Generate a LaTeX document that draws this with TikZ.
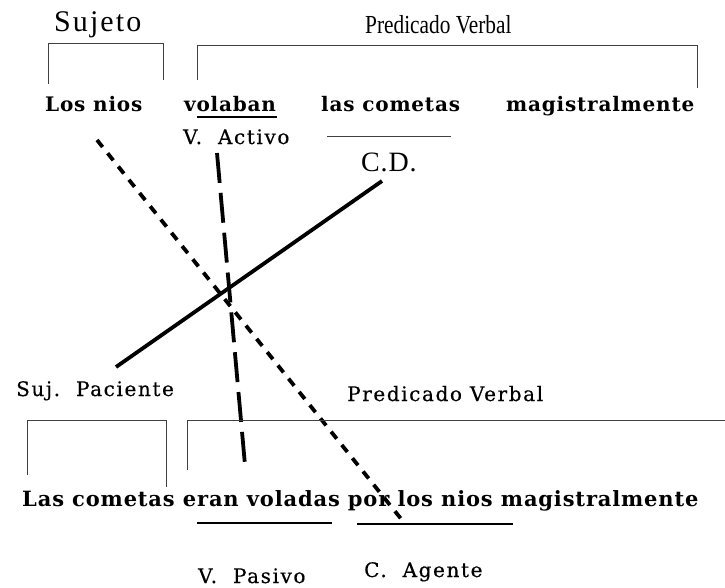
\documentclass[tikz,border=0pt]{standalone}
\usepackage{fontspec}
\setmainfont{Liberation Serif}
\newfontfamily\wideserif{DejaVu Serif}[BoldFont={DejaVu Serif Bold}]
\begin{document}
\begin{tikzpicture}[x=1pt,y=-1pt,
  lbl/.style={inner sep=0pt,anchor=base west,font=\wideserif\fontsize{20}{22}\selectfont\addfontfeature{LetterSpace=8,FakeBold=0.5}},
  brow/.style={inner sep=0pt,anchor=base west,font=\wideserif\bfseries\fontsize{20}{22}\selectfont\addfontfeature{LetterSpace=4}},
  bracket/.style={draw=black!75,line width=0.9pt},
  uline/.style={line width=2.2pt},
  cross/.style={line width=3.8pt}]
\useasboundingbox (0,0) rectangle (725,587);
% top labels
\node[inner sep=0pt,anchor=base west,font=\fontsize{30}{32}\selectfont\addfontfeature{LetterSpace=7}] (suj) at (54,31) {Sujeto};
\node[inner sep=0pt,anchor=base west,font=\fontsize{26}{30}\selectfont] (pv1) at (365,33) {\scalebox{0.82}[1]{Predicado Verbal}};
% top brackets
\coordinate (s1a) at (48,84); \coordinate (s1b) at (48,43);
\coordinate (s1c) at (163,43); \coordinate (s1d) at (163,80);
\draw[bracket] (s1a) -- (s1b) -- (s1c) -- (s1d);
\coordinate (p1a) at (197,80); \coordinate (p1b) at (197,45);
\coordinate (p1c) at (697,45); \coordinate (p1d) at (697,88);
\draw[bracket] (p1a) -- (p1b) -- (p1c) -- (p1d);
% top row
\node[brow] (w1) at (45,111) {Los nios};
\node[brow] (w2) at (184,111) {volaban};
\node[brow] (w3) at (321,111) {las cometas};
\node[brow] (w4) at (506,111) {magistralmente};
\coordinate (u1a) at (197,117); \coordinate (u1b) at (277,117);
\draw[line width=1.4pt] (u1a) -- (u1b);
\node[lbl] (va) at (183,144) {V.\ \ Activo};
\coordinate (cda) at (327,136); \coordinate (cdb) at (451,136);
\draw[draw=black!75,line width=0.9pt] (cda) -- (cdb);
\node[inner sep=0pt,anchor=base west,font=\fontsize{28}{30}\selectfont\addfontfeature{LetterSpace=3}] (cd) at (361,171) {C.D.};
% crossing lines
\coordinate (d1a) at (97,140); \coordinate (d1b) at (402,520);
\draw[cross,dash pattern=on 9pt off 8pt] (d1a) -- (d1b);
\coordinate (d2a) at (217,153); \coordinate (d2b) at (245,465);
\draw[cross,dash pattern=on 30pt off 10pt] (d2a) -- (d2b);
\coordinate (d3a) at (116,367); \coordinate (d3b) at (382,181);
\draw[cross] (d3a) -- (d3b);
% bottom labels
\node[lbl] (sp) at (16,396) {Suj.\ \ Paciente};
\node[lbl] (pv2) at (347,401) {Predicado Verbal};
% bottom brackets
\coordinate (s2a) at (27,475); \coordinate (s2b) at (27,420);
\coordinate (s2c) at (166,420); \coordinate (s2d) at (166,487);
\draw[bracket] (s2a) -- (s2b) -- (s2c) -- (s2d);
\coordinate (p2a) at (187,470); \coordinate (p2b) at (187,420);
\coordinate (p2c) at (725,420);
\draw[bracket] (p2a) -- (p2b) -- (p2c);
% bottom row
\node[brow,font=\wideserif\bfseries\fontsize{21}{23}\selectfont\addfontfeature{LetterSpace=4}] (row2) at (22,506) {Las cometas eran voladas por los nios magistralmente};
\coordinate (u2a) at (197,523); \coordinate (u2b) at (332,523);
\draw[uline] (u2a) -- (u2b);
\coordinate (u3a) at (357,524); \coordinate (u3b) at (513,524);
\draw[uline] (u3a) -- (u3b);
\node[lbl] (vp) at (198,583) {V.\ \ Pasivo};
\node[lbl] (ca) at (364,577) {C.\ \ Agente};
\end{tikzpicture}
\end{document}
